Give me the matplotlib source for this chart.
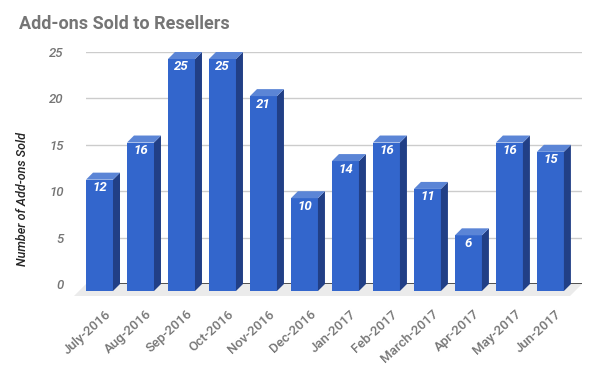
import matplotlib
matplotlib.use("Agg")
import matplotlib.pyplot as plt
from matplotlib.patches import Polygon

plt.rcParams['font.family'] = ['Roboto', 'DejaVu Sans']

months = ["July-2016", "Aug-2016", "Sep-2016", "Oct-2016", "Nov-2016", "Dec-2016",
          "Jan-2017", "Feb-2017", "March-2017", "Apr-2017", "May-2017", "Jun-2017"]
sold = [12, 16, 25, 25, 21, 10, 14, 16, 11, 6, 16, 15]
yticks = [0, 5, 10, 15, 20, 25]

title = "Add-ons Sold to Resellers"
ylabel = "Number of Add-ons Sold"

FRONT = "#3366cc"
SIDE = "#213f86"
TOP = "#5b85d6"
GRAY = "#757575"

fig = plt.figure(figsize=(6, 3.71), dpi=100)
ax = fig.add_axes([86/600, 87/371, 496/600, 232/371])
ax.set_xlim(-0.5, 11.6)
ax.set_ylim(0, 25)

# pixel-to-data conversions
px_x = 12.1 / 496
px_y = 25 / 232
dx = 7 * px_x
dy = 7 * px_y
w = 27 * px_x

for s in ax.spines.values():
    s.set_visible(False)
ax.set_yticks(yticks)
ax.set_yticklabels([str(t) for t in yticks], fontstyle='italic', fontweight='medium',
                   color=GRAY, fontsize=9.5)
ax.tick_params(axis='y', length=0, pad=16)
ax.grid(axis='y', color='#cccccc', linewidth=1, zorder=0)
ax.set_axisbelow(True)
ax.axhline(0, color='#333333', linewidth=1.2, zorder=1)

# floor
fdx, fdy = 12 * px_x, 12 * px_y
floor = Polygon([(-0.5, 0), (11.6, 0), (11.6 - fdx, -fdy), (-0.5 - fdx, -fdy)],
                closed=True, facecolor='#ebebeb', edgecolor='none', clip_on=False, zorder=0.5)
ax.add_patch(floor)

for i, v in enumerate(sold):
    xl = i - dx - w / 2
    xr = i - dx + w / 2
    front = Polygon([(xl, -dy), (xr, -dy), (xr, v - dy), (xl, v - dy)], closed=True,
                    facecolor=FRONT, edgecolor='none', clip_on=False, zorder=3)
    side = Polygon([(xr, -dy), (xr + dx, 0), (xr + dx, v), (xr, v - dy)], closed=True,
                   facecolor=SIDE, edgecolor='none', clip_on=False, zorder=3)
    top = Polygon([(xl, v - dy), (xr, v - dy), (xr + dx, v), (xl + dx, v)], closed=True,
                  facecolor=TOP, edgecolor='none', clip_on=False, zorder=3)
    for p in (front, side, top):
        ax.add_patch(p)
    ax.text(i - dx, v - dy - 8 * px_y, str(v), ha='center', va='center', color='white',
            fontsize=9.5, fontweight='bold', fontstyle='italic', zorder=4)

ax.set_xticks([i - dx + 5 * px_x for i in range(len(months))])
ax.set_xticklabels(months, rotation=42, ha='right', rotation_mode='anchor',
                   color=GRAY, fontsize=9.5, fontweight='medium')
ax.tick_params(axis='x', length=0, pad=17)

fig.text(19/600, 1 - 24/371, title, fontsize=13, fontweight='bold', color=GRAY,
         ha='left', va='center')
fig.text(23/600, 1 - 199/371, ylabel, rotation=90, fontsize=9, fontstyle='italic',
         fontweight='medium', color='#222222', ha='center', va='center')

fig.savefig("out.png", dpi=100)
